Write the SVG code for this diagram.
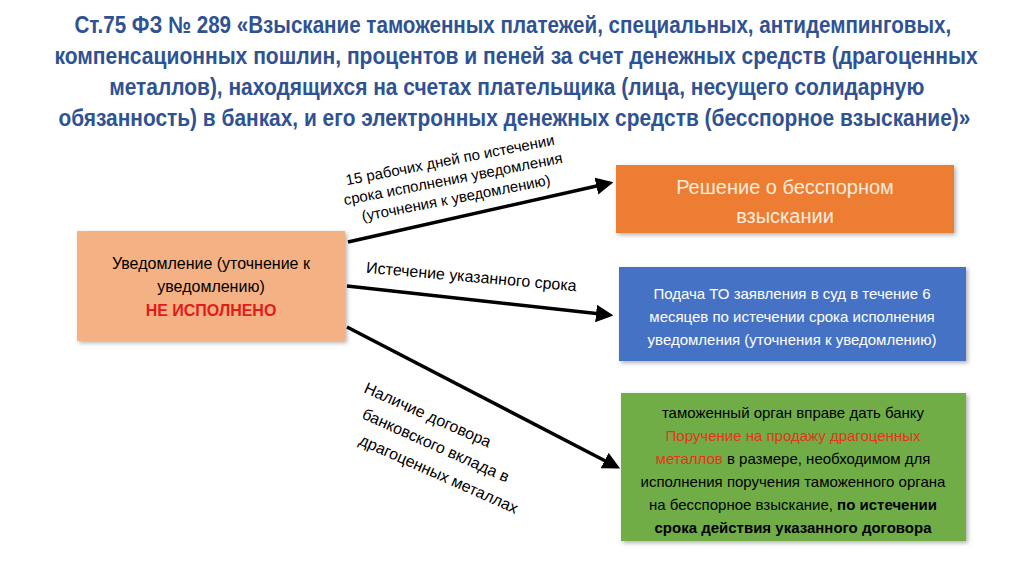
<svg xmlns="http://www.w3.org/2000/svg" width="1024" height="576" viewBox="0 0 1024 576">
<defs>
<style>
.title{font-family:"Liberation Sans",Arial,sans-serif;font-weight:bold;font-size:24px;fill:#2F5293;text-anchor:middle}
.lbl{font-family:"Liberation Sans",Arial,sans-serif;font-size:15px;fill:#000}
.c{text-anchor:middle}
.conn{stroke:#000;stroke-width:3.5;fill:none;marker-end:url(#ah)}
</style>
<marker id="ah" markerWidth="5" markerHeight="5" refX="4" refY="2.5" orient="auto" markerUnits="strokeWidth">
<path d="M0,0 L5,2.5 L0,5 z" fill="#000"/>
</marker>
<filter id="sh" x="-10%" y="-10%" width="130%" height="130%">
<feDropShadow dx="2" dy="2" stdDeviation="2" flood-color="#000" flood-opacity="0.3"/>
</filter>
</defs>
<rect width="1024" height="576" fill="#fff"/>
<g id="title" transform="scale(0.8,1)">
<text class="title" x="641" y="33" textLength="1096" lengthAdjust="spacingAndGlyphs">Ст.75 ФЗ № 289 «Взыскание таможенных платежей, специальных, антидемпинговых,</text>
<text class="title" x="645" y="64" textLength="1154" lengthAdjust="spacingAndGlyphs">компенсационных пошлин, процентов и пеней за счет денежных средств (драгоценных</text>
<text class="title" x="646" y="95" textLength="1019" lengthAdjust="spacingAndGlyphs">металлов), находящихся на счетах плательщика (лица, несущего солидарную</text>
<text class="title" x="643" y="126" textLength="1140" lengthAdjust="spacingAndGlyphs">обязанность) в банках, и его электронных денежных средств (бесспорное взыскание)»</text>
</g>
<g id="connectors">
<line class="conn" x1="348" y1="242" x2="610" y2="183"/>
<line class="conn" x1="347" y1="286" x2="610" y2="315"/>
<line class="conn" x1="347" y1="327" x2="617" y2="467"/>
<g class="lbl">
<text class="c" transform="translate(451,165) rotate(-11)">15 рабочих дней по истечении</text>
<text class="c" transform="translate(454,184) rotate(-11)">срока исполнения уведомления</text>
<text class="c" transform="translate(457,203) rotate(-11)">(уточнения к уведомлению)</text>
<text class="c" transform="translate(471,282) rotate(5)" style="font-size:16px">Истечение указанного срока</text>
<text transform="translate(363,392) rotate(24)" style="font-size:16px">Наличие договора</text>
<text transform="translate(361,418) rotate(24)" style="font-size:16px">банковского вклада в</text>
<text transform="translate(358,444) rotate(24)" style="font-size:16px">драгоценных металлах</text>
</g>
</g>
<g id="node-notice">
<rect x="77" y="231" width="268" height="110" fill="#F4B183" filter="url(#sh)"/>
<text class="lbl c" x="211" y="269" style="font-size:16px">Уведомление (уточнение к</text>
<text class="lbl c" x="211" y="292" style="font-size:16px">уведомлению)</text>
<text class="lbl c" x="211" y="316" style="font-size:16px;font-weight:bold;fill:#E31B1B">НЕ ИСПОЛНЕНО</text>
</g>
<g id="node-decision">
<rect x="616" y="165" width="338" height="68" fill="#ED7D31" filter="url(#sh)"/>
<text class="lbl c" x="785" y="194" style="font-size:20px;fill:#FDEBDD">Решение о бесспорном</text>
<text class="lbl c" x="785" y="223" style="font-size:20px;fill:#FDEBDD">взыскании</text>
</g>
<g id="node-court">
<rect x="619" y="267" width="347" height="94" fill="#4472C4" filter="url(#sh)"/>
<text class="lbl c" x="792" y="299" style="fill:#fff">Подача ТО заявления в суд в течение 6</text>
<text class="lbl c" x="792" y="322" style="fill:#fff">месяцев по истечении срока исполнения</text>
<text class="lbl c" x="792" y="345" style="fill:#fff">уведомления (уточнения к уведомлению)</text>
</g>
<g id="node-bank">
<rect x="621" y="393" width="345" height="148" fill="#70AD47" filter="url(#sh)"/>
<text class="lbl c" x="793" y="418">таможенный орган вправе дать банку</text>
<text class="lbl c" x="793" y="441" style="fill:#E8331A">Поручение на продажу драгоценных</text>
<text class="lbl c" x="793" y="464"><tspan style="fill:#E8331A">металлов</tspan> в размере, необходимом для</text>
<text class="lbl c" x="793" y="487">исполнения поручения таможенного органа</text>
<text class="lbl c" x="793" y="510">на бесспорное взыскание, <tspan style="font-weight:bold">по истечении</tspan></text>
<text class="lbl c" x="793" y="533" style="font-weight:bold">срока действия указанного договора</text>
</g>
</svg>
